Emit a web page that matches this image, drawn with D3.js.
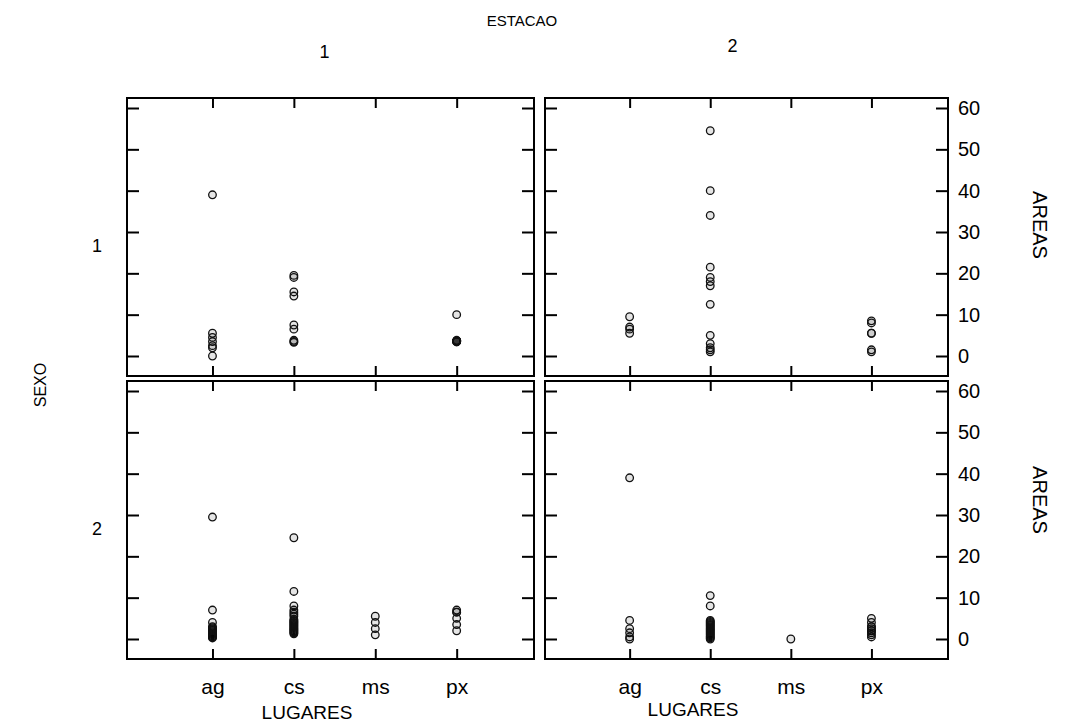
<!DOCTYPE html>
<html>
<head>
<meta charset="utf-8">
<script src="https://cdn.jsdelivr.net/npm/d3@7"></script>
<style>
  body { margin: 0; background: #fff; }
  svg { font-family: "Liberation Sans", Arial, sans-serif; }
</style>
</head>
<body>
<script>
const lugares = ['ag', 'cs', 'ms', 'px']
const estacaoLevels = ['1', '2']
const sexoLevels = ['1', '2']
const areaTicks = [0, 10, 20, 30, 40, 50, 60]

// AREAS by lugar, one object per panel (estacao, sexo)
const areasE1S1 = {
	ag: [39, 5.5, 4.5, 3.5, 2.5, 2, 0],
	cs: [19.5, 19, 15.5, 14.5, 7.5, 6.5, 3.8, 3.5, 3.3],
	ms: [],
	px: [10, 3.6, 3.6, 3.6, 3.6, 3.6, 3.6, 3.6, 3.6, 3.6, 3.6, 3.6, 3.6, 3.4, 3.8]
}
const areasE2S1 = {
	ag: [9.5, 7, 6.5, 5.5],
	cs: [54.5, 40, 34, 21.5, 19, 18, 17, 12.5, 5, 3, 2, 1.5, 1],
	ms: [],
	px: [8.5, 8, 5.5, 5.5, 1.5, 1]
}
const areasE1S2 = {
	ag: [29.5, 7, 4, 3, 2.75, 2.5, 2.25, 2, 1.75, 1.5, 1.25, 1, 0.75, 0.5, 0.5, 0.25],
	cs: [24.5, 11.5, 8, 7, 6.5, 6, 5.5, 4.75, 4.5, 4.25, 4, 3.75, 3.5, 3.25, 3, 2.75, 2.5, 2.25, 2, 1.75, 1.5, 1.25],
	ms: [5.5, 4, 2.5, 1],
	px: [7, 6.5, 6.5, 5, 3.5, 2]
}
const areasE2S2 = {
	ag: [39, 4.5, 2.5, 1.5, 0.5, 0],
	cs: [10.5, 8, 4.5, 4.25, 4, 3.75, 3.5, 3.25, 3, 2.75, 2.5, 2.25, 2, 1.75, 1.5, 1.25, 1, 0.75, 0.5, 0.25, 0],
	ms: [0],
	px: [5, 4, 3, 3, 2.5, 2, 2, 1.5, 1, 0.5]
}

const panels = [
	{ estacao: 0, sexo: 0, areas: areasE1S1 },
	{ estacao: 1, sexo: 0, areas: areasE2S1 },
	{ estacao: 0, sexo: 1, areas: areasE1S2 },
	{ estacao: 1, sexo: 1, areas: areasE2S2 }
]

const w = 1067
const h = 728
const cols = [[127, 534], [545, 948]]
const rows = [[98, 376], [381, 659]]

const svg = d3.select('body')
	.append('svg')
	.attr('width', w)
	.attr('height', h)

panels.forEach(p => {
	const [x0, x1] = cols[p.estacao]
	const [y0, y1] = rows[p.sexo]
	const step = (x1 - x0) / 5

	const xScale = d3.scalePoint()
		.domain(['', ...lugares, ' '])
		.range([x0 + 0.05 * step, x1 + 0.05 * step])

	const yScale = d3.scaleLinear()
		.domain([-4.84, 62.42])
		.range([y1, y0])

	const g = svg.append('g')

	// inward ticks on all four sides
	const axes = [
		[d3.axisLeft(yScale).tickValues(areaTicks).tickSize(-12).tickFormat(''), `translate(${x0},0)`],
		[d3.axisRight(yScale).tickValues(areaTicks).tickSize(-12), `translate(${x1},0)`],
		[d3.axisTop(xScale).tickValues(lugares).tickSize(-10).tickFormat(''), `translate(0,${y0})`],
		[d3.axisBottom(xScale).tickValues(lugares).tickSize(-10), `translate(0,${y1})`]
	]
	axes.forEach(([ax, tr], i) => {
		if (i === 1) ax.tickPadding(10).tickFormat(p.estacao === 1 ? d3.format('d') : '')
		if (i === 3) ax.tickPadding(20).tickFormat(p.sexo === 1 ? (d => d) : '')
		const a = g.append('g').attr('transform', tr).call(ax)
		a.select('.domain').remove()
		a.selectAll('line').attr('stroke', '#000').attr('stroke-width', 2)
		a.selectAll('text').attr('fill', '#000')
			.attr('font-size', i === 3 ? 21 : 20)
			.attr('font-family', '"Liberation Sans", Arial, sans-serif')
	})

	g.append('rect')
		.attr('x', x0).attr('y', y0)
		.attr('width', x1 - x0).attr('height', y1 - y0)
		.attr('fill', 'none')
		.attr('stroke', '#000')
		.attr('stroke-width', 2)

	const pts = []
	lugares.forEach(l => p.areas[l].forEach(v => pts.push([l, v])))

	g.selectAll('circle')
		.data(pts)
		.enter()
		.append('circle')
		.attr('cx', d => xScale(d[0]))
		.attr('cy', d => yScale(d[1]))
		.attr('r', 3.8)
		.attr('fill', '#000')
		.attr('fill-opacity', 0.1)
		.attr('stroke', '#111')
		.attr('stroke-width', 1.3)
})

// strip and level labels
svg.append('text')
	.attr('x', 522).attr('y', 26)
	.attr('text-anchor', 'middle')
	.attr('font-size', 15)
	.text('ESTACAO')

estacaoLevels.forEach((s, i) => {
	svg.append('text')
		.attr('x', (cols[i][0] + cols[i][1]) / 2 - 6 - i * 8).attr('y', 58 - i * 6)
		.attr('text-anchor', 'middle')
		.attr('font-size', 18)
		.text(s)
})

sexoLevels.forEach((s, i) => {
	svg.append('text')
		.attr('x', 97).attr('y', (rows[i][0] + rows[i][1]) / 2 + 15)
		.attr('text-anchor', 'middle')
		.attr('font-size', 18)
		.text(s)
})

svg.append('text')
	.attr('transform', 'translate(46,385) rotate(-90)')
	.attr('text-anchor', 'middle')
	.attr('font-size', 16)
	.text('SEXO')

const areasLabelY = [225, 500]
areasLabelY.forEach(y => {
	svg.append('text')
		.attr('transform', `translate(1033,${y}) rotate(90)`)
		.attr('text-anchor', 'middle')
		.attr('font-size', 20)
		.text('AREAS')
})

const lugaresLabelX = [307, 693]
lugaresLabelX.forEach((x, i) => {
	svg.append('text')
		.attr('x', x).attr('y', 719 - i * 3)
		.attr('text-anchor', 'middle')
		.attr('font-size', 19)
		.text('LUGARES')
})
</script>
</body>
</html>
